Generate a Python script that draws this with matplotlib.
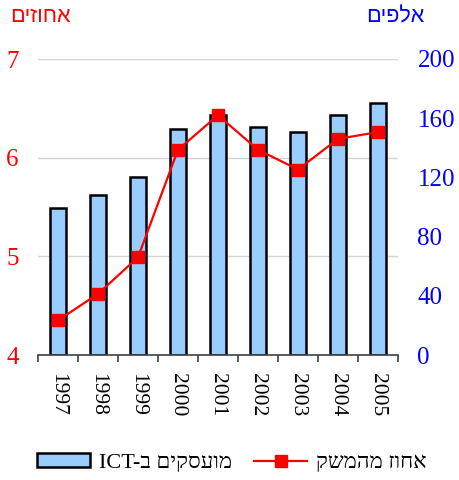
import matplotlib
matplotlib.use("Agg")
import matplotlib.pyplot as plt
from matplotlib.ticker import FixedLocator
from matplotlib.patches import Patch
from matplotlib.lines import Line2D

# ----------------------------
# Data
# ----------------------------
years = ["1997", "1998", "1999", "2000", "2001", "2002", "2003", "2004", "2005"]
employed_k = [99, 108, 120, 153, 162, 154, 151, 162, 170]       # thousands, right axis
share_pct = [4.35, 4.62, 4.99, 6.08, 6.43, 6.08, 5.88, 6.19, 6.26]  # percent, left axis

left_ticks = [4, 5, 6, 7]
right_ticks = [0, 40, 80, 120, 160, 200]

title_left = "אחוזים"
title_right = "אלפים"
label_bars = "מועסקים ב-ICT"
label_line = "אחוז מהמשק"


def visual(s: str) -> str:
    """matplotlib has no bidi support: put Hebrew runs in visual (LTR) order."""
    parts = s.split("-")
    if len(parts) == 2 and parts[1].isascii():
        return parts[1] + "-" + parts[0][::-1]
    return s[::-1]


RED = "#ff0000"
BLUE = "#0000ff"
BAR = "#99ccff"
SERIF = ["Liberation Serif", "DejaVu Serif"]
HEB = ["Liberation Sans", "DejaVu Sans"]

fig = plt.figure(figsize=(4.59, 4.80), dpi=100)
ax1 = fig.add_axes([38 / 459, 125 / 480, 360 / 459, 296 / 480])
x = list(range(len(years)))

# bars on the right-hand scale
ax1.bar(x, employed_k, width=0.4, color=BAR, edgecolor="black", linewidth=1.8, zorder=2)
ax1.set_ylim(right_ticks[0], right_ticks[-1])
ax1.set_xlim(-0.5, len(years) - 0.5)

# line on the left-hand scale (twinx flips ax1 ticks to the left, fix below)
ax2 = ax1.twinx()
ax2.plot(x, share_pct, color=RED, linewidth=1.6, marker="s", markersize=8,
         markerfacecolor=RED, markeredgecolor=RED, zorder=3, clip_on=False)
ax2.set_ylim(left_ticks[0], left_ticks[-1])
ax2.yaxis.tick_left()
ax2.set_yticks(left_ticks)
ax2.set_yticklabels([str(t) for t in left_ticks], color=RED, fontsize=18, family=SERIF)
ax2.tick_params(axis="y", length=0, pad=14)
for side in ["top", "left", "right", "bottom"]:
    ax2.spines[side].set_visible(False)

ax1.yaxis.tick_right()
ax1.set_yticks(right_ticks)
ax1.set_yticklabels([str(t) for t in right_ticks], color=BLUE, fontsize=18, family=SERIF)
ax1.tick_params(axis="y", which="both", length=0, pad=14)

# gridlines sit at the left-axis ticks, drawn behind the bars
span = left_ticks[-1] - left_ticks[0]
grid_pos = [(v - left_ticks[0]) / span * right_ticks[-1] for v in left_ticks[1:]]
ax1.yaxis.set_minor_locator(FixedLocator(grid_pos))
ax1.yaxis.remove_overlapping_locs = False
ax1.grid(which="minor", axis="y", color="#d4d4d4", linewidth=1.0)
ax1.grid(which="major", axis="y", visible=False)
ax1.set_axisbelow(True)

ax1.set_xticks(x)
ax1.set_xticklabels(years, rotation=-90, fontsize=15.5, family=SERIF, va="top")
ax1.tick_params(axis="x", which="major", length=0, pad=13)
ax1.xaxis.set_minor_locator(FixedLocator([i - 0.5 for i in range(len(years) + 1)]))
ax1.tick_params(axis="x", which="minor", length=5, width=1.2, color="#404040")

for side in ["top", "left", "right"]:
    ax1.spines[side].set_visible(False)
ax1.spines["bottom"].set_color("#404040")
ax1.spines["bottom"].set_linewidth(1.2)

fig.text(40 / 459, 1 - 17 / 480, visual(title_left), color=RED, fontsize=15.5,
         family=HEB, ha="center", va="center")
fig.text(395 / 459, 1 - 17 / 480, visual(title_right), color=BLUE, fontsize=15.5,
         family=HEB, ha="center", va="center")

handles = [
    Patch(facecolor=BAR, edgecolor="black", linewidth=1.8),
    Line2D([], [], color=RED, linewidth=1.6, marker="s", markersize=8),
]
fig.legend(handles, [visual(label_bars), visual(label_line)],
           loc="center", bbox_to_anchor=(0.505, 1 - 463 / 480), ncol=2, frameon=False,
           prop={"family": SERIF + HEB, "size": 16}, handlelength=2.4,
           handleheight=0.55, columnspacing=1.0, handletextpad=0.4)

fig.savefig("out.png", dpi=100)
